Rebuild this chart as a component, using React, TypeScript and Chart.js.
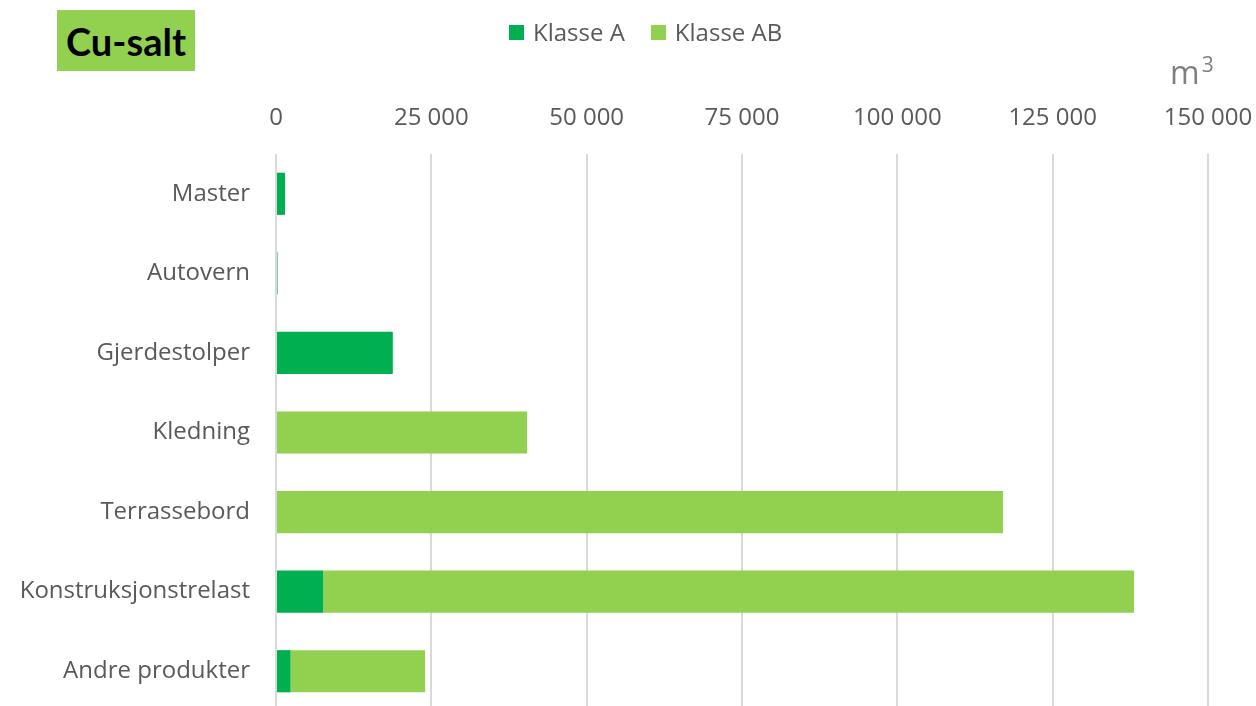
import React, { useEffect, useRef } from "react";
import { Chart, registerables } from "chart.js";

Chart.register(...registerables);

const categories = ["Master", "Autovern", "Gjerdestolper", "Kledning", "Terrassebord", "Konstruksjonstrelast", "Andre produkter"];
const klasseA = [1450, 250, 18800, 0, 0, 7600, 2350];
const klasseAB = [0, 0, 0, 40400, 117000, 130500, 21650];
const seriesNames = ["Klasse A", "Klasse AB"];
const seriesColors = ["#00B050", "#92D050"];
const xMax = 150000;
const xStep = 25000;
const titleText = "Cu-salt";
const unitText = "m";

const FONT = "'Open Sans', sans-serif";

export default function App() {
  const ref = useRef<HTMLCanvasElement>(null);
  useEffect(() => {
    const ctx = ref.current!.getContext("2d")!;
    const chart = new Chart(ctx, {
      type: "bar",
      data: {
        labels: categories,
        datasets: [
          { label: seriesNames[0], data: klasseA, backgroundColor: seriesColors[0], borderWidth: 0 },
          { label: seriesNames[1], data: klasseAB, backgroundColor: seriesColors[1], borderWidth: 0 },
        ],
      },
      options: {
        indexAxis: "y",
        animation: false,
        responsive: false,
        devicePixelRatio: 1,
        layout: { padding: { left: 0, right: 48, top: 0, bottom: 1 } },
        plugins: { legend: { display: false }, tooltip: { enabled: false } },
        datasets: { bar: { categoryPercentage: 1, barPercentage: 0.53 } },
        scales: {
          x: {
            position: "top",
            stacked: true,
            min: 0,
            max: xMax,
            border: { display: false },
            grid: { color: "#D9D9D9", lineWidth: 2, drawTicks: false },
            ticks: {
              stepSize: xStep,
              padding: 21,
              maxRotation: 0,
              color: "#595959",
              font: { family: FONT, size: 24 },
              callback: (v: any) => Number(v).toLocaleString("en-US").replace(/,/g, " "),
            },
            afterFit: (s: any) => {
              s.height = 154;
              s.paddingLeft = 0; s.paddingRight = 0; s.paddingTop = 0; s.paddingBottom = 0;
            },
          },
          y: {
            stacked: true,
            border: { display: false },
            grid: { display: false, drawTicks: false },
            ticks: { padding: 26, color: "#595959", font: { family: FONT, size: 24 } },
            afterFit: (s: any) => {
              s.width = 276;
              s.paddingLeft = 0; s.paddingRight = 0; s.paddingTop = 0; s.paddingBottom = 0;
            },
          },
        },
      },
    });
    return () => chart.destroy();
  }, []);

  return (
    <div style={{ position: "fixed", left: 0, top: 0, width: 1256, height: 706, overflow: "hidden", background: "#fff", fontFamily: FONT }}>
      <canvas ref={ref} width={1256} height={712} style={{ position: "absolute", left: 0, top: 0 }} />
      <div style={{ position: "absolute", left: 57, top: 10, width: 138, height: 61, background: "#92D050", display: "flex", alignItems: "center", justifyContent: "center", fontWeight: 700, fontSize: 38, color: "#000", fontFamily: "Lato, sans-serif" }}>
        {titleText}
      </div>
      <div style={{ position: "absolute", left: 509, top: 15, display: "flex", alignItems: "center", fontSize: 24, color: "#595959", whiteSpace: "nowrap", lineHeight: "34px" }}>
        {seriesNames.map((n, i) => (
          <span key={n} style={{ display: "flex", alignItems: "center", marginRight: i === 0 ? 26 : 0 }}>
            <span style={{ display: "inline-block", width: 15, height: 15, background: seriesColors[i], marginRight: 9 }} />
            {n}
          </span>
        ))}
      </div>
      <div style={{ position: "absolute", left: 1170, top: 50, fontSize: 32, color: "#7F7F7F", whiteSpace: "nowrap", lineHeight: "44px" }}>
        {unitText}<sup style={{ fontSize: 21, verticalAlign: "top", lineHeight: "21px", position: "relative", top: 4, marginLeft: 2 }}>3</sup>
      </div>
    </div>
  );
}
